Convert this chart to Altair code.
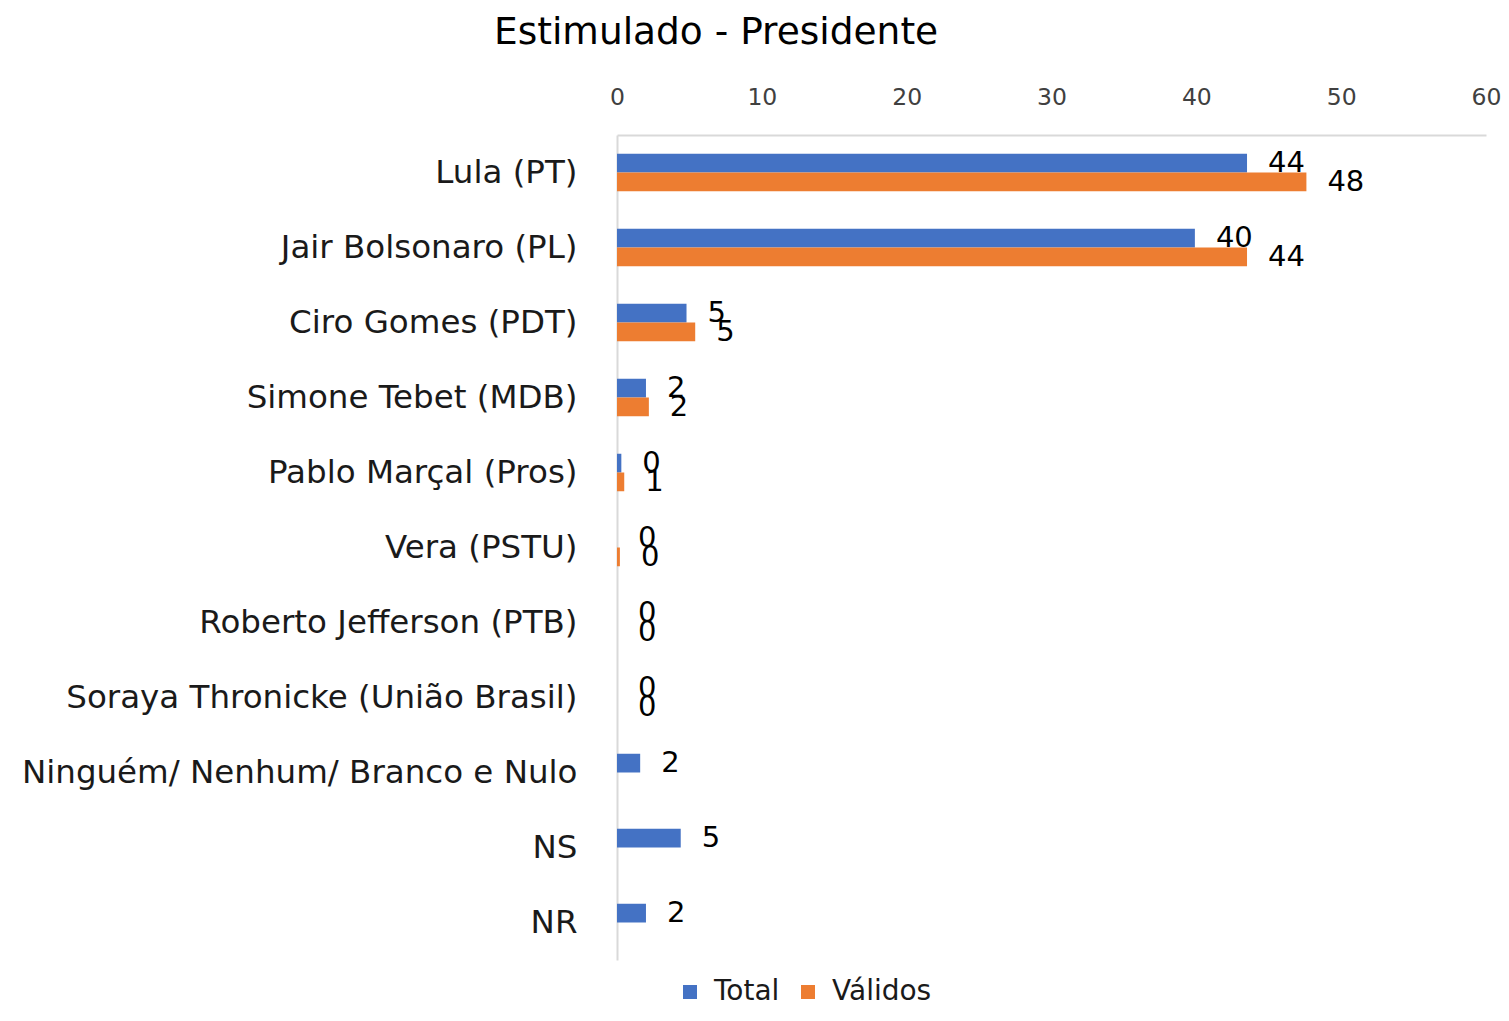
import altair as alt
import pandas as pd

categories = [
    "Lula (PT)", "Jair Bolsonaro (PL)", "Ciro Gomes (PDT)", "Simone Tebet (MDB)",
    "Pablo Marçal (Pros)", "Vera (PSTU)", "Roberto Jefferson (PTB)",
    "Soraya Thronicke (União Brasil)", "Ninguém/ Nenhum/ Branco e Nulo", "NS", "NR",
]
total_values = [43.5, 39.9, 4.8, 2.0, 0.3, 0.0, 0.0, 0.0, 1.6, 4.4, 2.0]
total_labels = ["44", "40", "5", "2", "0", "0", "0", "0", "2", "5", "2"]
validos_values = [47.6, 43.5, 5.4, 2.2, 0.5, 0.2, 0.0, 0.0, None, None, None]
validos_labels = ["48", "44", "5", "2", "1", "0", "0", "0", None, None, None]
series = ["Total", "Válidos"]
colors = ["#4472C4", "#ED7D31"]

rows = []
for i, c in enumerate(categories):
    rows.append({"cat": c, "serie": "Total", "valor": total_values[i], "rot": total_labels[i]})
    if validos_values[i] is not None:
        rows.append({"cat": c, "serie": "Válidos", "valor": validos_values[i], "rot": validos_labels[i]})
df = pd.DataFrame(rows)

FONT = "DejaVu Sans"

y_enc = alt.Y("cat:N", sort=categories, title=None,
              scale=alt.Scale(paddingInner=0.5, paddingOuter=0.25),
              axis=alt.Axis(labelFontSize=32.5, labelColor="#1a1a1a", labelFont=FONT,
                            labelPadding=40, ticks=False, domainColor="#D9D9D9",
                            domainWidth=2, labelLimit=700))
x_enc = alt.X("valor:Q", title=None,
              scale=alt.Scale(domain=[0, 60], nice=False),
              axis=alt.Axis(orient="top", values=[0, 10, 20, 30, 40, 50, 60],
                            labelFontSize=23.5, labelColor="#404040", labelFont=FONT,
                            labelPadding=26, labelFlush=False, ticks=False, grid=False,
                            domainColor="#D9D9D9", domainWidth=2))
yoff = alt.YOffset("serie:N", scale=alt.Scale(domain=series))

bars = alt.Chart(df).mark_bar().encode(
    y=y_enc, x=x_enc, yOffset=yoff,
    color=alt.Color("serie:N", scale=alt.Scale(domain=series, range=colors),
                    legend=alt.Legend(title=None, orient="none", direction="horizontal",
                                      legendX=59, legendY=843, symbolType="square",
                                      symbolSize=196, symbolStrokeWidth=0,
                                      labelFontSize=28, labelFont=FONT, labelColor="#1a1a1a",
                                      labelOffset=10, columnPadding=14, labelLimit=300)),
)

texts = alt.Chart(df).mark_text(align="left", baseline="middle", dx=21, fontSize=29,
                                font=FONT, color="#000000").encode(
    y=alt.Y("cat:N", sort=categories), x="valor:Q", yOffset=yoff, text="rot:N",
)

chart = alt.layer(bars, texts).properties(
    width=869, height=825,
    title=alt.TitleParams("Estimulado - Presidente", anchor="start", frame="group", dx=-123,
                          fontSize=37.5, font=FONT, fontWeight="normal",
                          color="#000000", offset=34),
    autosize=alt.AutoSizeParams(type="none"),
    padding={"left": 609, "top": 127, "right": 15, "bottom": 49},
).configure_view(stroke=None)

chart.save("out.html", embed_options={"renderer": "svg", "actions": False})
